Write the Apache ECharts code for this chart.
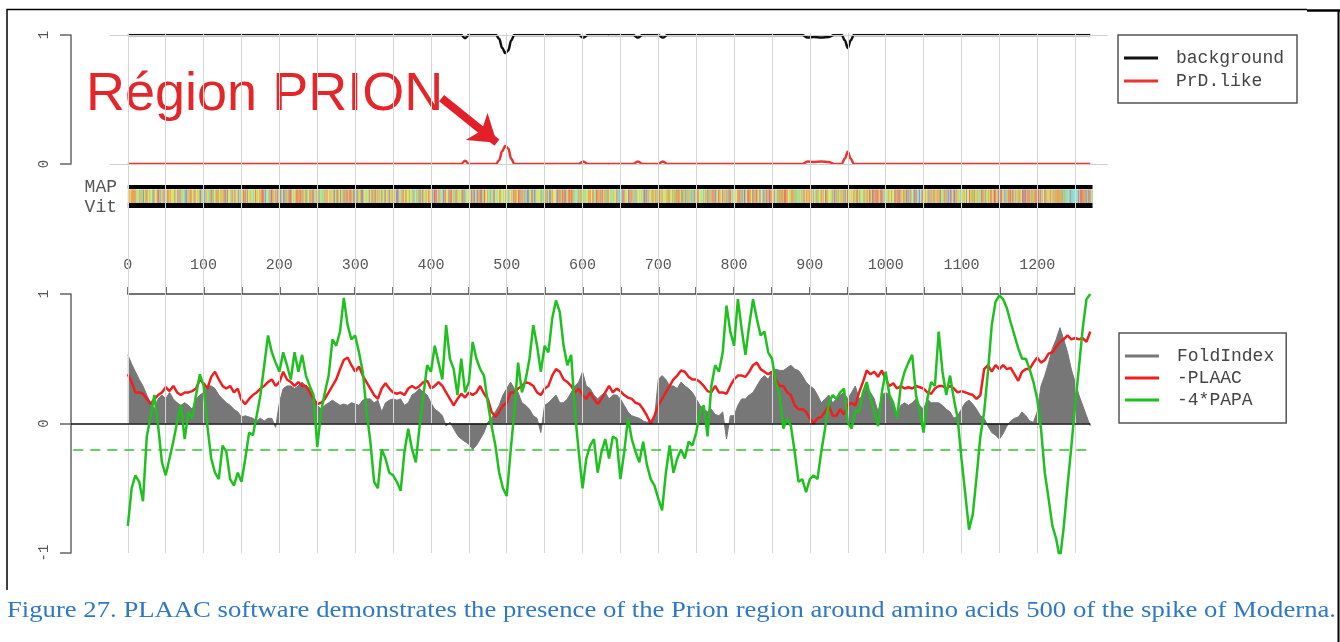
<!DOCTYPE html>
<html><head><meta charset="utf-8">
<script src="https://cdn.jsdelivr.net/npm/echarts@6/dist/echarts.min.js"></script>
<style>html,body{margin:0;padding:0;background:#fff}#c{width:1340px;height:642px}</style>
</head><body><div id="c"></div>
<script>
// ---------------- DATA ----------------
const STEP = 5; // residue spacing of the sampled profiles below (0,5,10,...)
const foldIndex = [
 0.53,0.46,0.40,0.34,0.29,0.22,0.16,0.11,0.19,0.22,
 0.19,0.24,0.19,0.16,0.14,0.16,0.14,0.11,0.19,0.22,
 0.24,0.29,0.29,0.27,0.22,0.19,0.16,0.14,0.11,0.09,
 0.05,0.06,0.05,0.04,0.02,0.04,0.02,0.04,0.04,-0.03,
 0.16,0.27,0.29,0.29,0.27,0.29,0.32,0.29,0.27,0.22,
 0.14,0.11,0.14,0.16,0.18,0.16,0.14,0.15,0.14,0.16,
 0.15,0.14,0.18,0.19,0.19,0.16,0.18,0.09,0.16,0.18,
 0.19,0.18,0.19,0.14,0.16,0.22,0.24,0.27,0.24,0.22,
 0.16,0.11,0.09,0.06,-0.02,0.01,-0.04,-0.09,-0.12,-0.14,
 -0.16,-0.20,-0.17,-0.12,-0.07,0.01,0.04,0.09,0.14,0.22,
 0.27,0.32,0.27,0.24,0.16,0.14,0.11,0.06,0.04,-0.07,
 0.14,0.16,0.19,0.22,0.16,0.16,0.19,0.24,0.29,0.32,
 0.40,0.29,0.27,0.22,0.19,0.22,0.24,0.19,0.22,0.22,
 0.19,0.14,0.09,0.06,0.05,0.04,0.02,0.01,0.02,0.04,
 0.34,0.37,0.34,0.29,0.29,0.27,0.32,0.29,0.27,0.24,
 0.19,0.14,0.11,0.09,0.11,0.07,0.06,0.09,-0.12,0.06,
 0.06,0.14,0.19,0.19,0.22,0.24,0.29,0.34,0.37,0.34,
 0.40,0.42,0.41,0.41,0.43,0.45,0.42,0.41,0.37,0.32,
 0.29,0.27,0.22,0.16,0.19,0.22,0.16,0.19,0.22,0.24,
 0.19,0.24,0.29,0.19,0.22,0.29,0.24,0.19,0.09,0.22,
 0.24,0.22,0.16,0.06,0.14,0.16,0.14,0.16,0.19,0.14,
 0.11,0.19,0.16,0.16,0.16,0.14,0.11,0.09,0.04,0.06,
 0.11,0.16,0.18,0.15,0.11,0.06,0.04,-0.02,-0.07,-0.09,
 -0.12,-0.08,-0.02,0.02,0.04,0.05,0.09,0.06,0.02,0.01,
 0.09,0.29,0.37,0.47,0.58,0.65,0.74,0.65,0.55,0.42,
 0.32,0.22,0.14,0.06,-0.02
];
const plaac = [
 0.38,0.32,0.24,0.24,0.23,0.19,0.15,0.19,0.22,0.24,
 0.28,0.25,0.29,0.24,0.22,0.24,0.24,0.25,0.27,0.34,
 0.31,0.27,0.36,0.40,0.34,0.29,0.27,0.29,0.24,0.27,
 0.18,0.15,0.19,0.22,0.24,0.27,0.29,0.32,0.34,0.29,
 0.32,0.40,0.34,0.32,0.29,0.32,0.29,0.29,0.24,0.19,
 0.15,0.16,0.19,0.24,0.29,0.34,0.42,0.49,0.51,0.45,
 0.40,0.44,0.37,0.32,0.27,0.22,0.19,0.27,0.31,0.27,
 0.24,0.23,0.24,0.22,0.27,0.29,0.27,0.29,0.32,0.33,
 0.27,0.29,0.32,0.29,0.24,0.19,0.14,0.19,0.23,0.20,
 0.24,0.22,0.24,0.29,0.23,0.19,0.09,0.05,0.09,0.14,
 0.16,0.24,0.24,0.27,0.29,0.32,0.31,0.29,0.24,0.22,
 0.27,0.29,0.37,0.42,0.40,0.34,0.32,0.29,0.24,0.27,
 0.22,0.19,0.24,0.19,0.15,0.19,0.24,0.29,0.24,0.27,
 0.25,0.22,0.20,0.19,0.16,0.15,0.11,0.06,0.00,0.06,
 0.14,0.19,0.24,0.29,0.34,0.37,0.41,0.40,0.36,0.34,
 0.34,0.32,0.29,0.25,0.24,0.29,0.24,0.24,0.23,0.29,
 0.34,0.37,0.37,0.36,0.40,0.45,0.47,0.42,0.40,0.38,
 0.40,0.34,0.29,0.29,0.24,0.22,0.14,0.11,0.11,0.09,
 0.04,0.00,0.04,0.05,0.09,0.14,0.06,0.06,0.11,0.07,
 0.14,0.16,0.14,0.24,0.32,0.41,0.38,0.40,0.36,0.41,
 0.34,0.29,0.31,0.27,0.29,0.27,0.28,0.27,0.29,0.28,
 0.27,0.24,0.23,0.27,0.29,0.29,0.27,0.29,0.27,0.24,
 0.25,0.24,0.23,0.22,0.19,0.22,0.42,0.45,0.40,0.45,
 0.42,0.45,0.42,0.43,0.38,0.33,0.40,0.42,0.42,0.47,
 0.51,0.47,0.49,0.54,0.55,0.59,0.63,0.65,0.68,0.65,
 0.66,0.65,0.66,0.63,0.71
];
const papa = [
 -0.79,-0.50,-0.40,-0.45,-0.60,-0.10,0.05,0.22,-0.02,-0.30,
 -0.40,-0.27,-0.14,0.01,0.14,-0.12,0.09,0.04,0.22,0.38,
 0.29,-0.02,-0.27,-0.38,-0.43,-0.17,-0.22,-0.43,-0.48,-0.38,
 -0.45,-0.27,-0.07,-0.09,0.06,0.22,0.45,0.68,0.55,0.47,
 0.40,0.55,0.45,0.34,0.55,0.40,0.53,0.37,0.29,0.22,
 -0.18,0.09,0.24,0.37,0.65,0.60,0.71,0.97,0.76,0.65,
 0.68,0.55,0.40,0.10,-0.14,-0.45,-0.50,-0.20,-0.27,-0.38,
 -0.40,-0.45,-0.52,-0.22,-0.04,-0.20,-0.30,-0.02,0.22,0.45,
 0.40,0.60,0.47,0.34,0.76,0.50,0.42,0.22,0.50,0.24,
 0.32,0.63,0.50,0.42,0.37,0.16,-0.02,-0.17,-0.38,-0.50,
 -0.56,-0.22,0.09,0.47,0.24,0.34,0.50,0.76,0.60,0.40,
 0.60,0.55,0.81,0.95,0.86,0.60,0.45,0.53,0.09,-0.22,
 -0.50,-0.27,-0.17,-0.12,-0.38,-0.22,-0.12,-0.27,-0.10,-0.12,
 -0.43,-0.22,0.04,-0.12,-0.22,-0.30,-0.14,-0.32,-0.43,-0.48,
 -0.58,-0.67,-0.38,-0.17,-0.38,-0.27,-0.20,-0.27,-0.14,-0.17,
 -0.07,0.09,0.14,-0.10,0.29,0.45,0.40,0.55,0.91,0.71,
 0.60,0.96,0.73,0.53,0.76,0.96,0.81,0.68,0.71,0.55,
 0.50,0.32,0.22,-0.04,0.04,-0.02,-0.22,-0.45,-0.43,-0.53,
 -0.43,-0.40,-0.43,-0.22,-0.04,0.16,0.22,0.19,0.24,0.27,
 0.01,-0.04,0.10,0.09,0.24,0.32,0.19,0.09,-0.02,0.24,
 0.40,0.22,0.16,0.04,0.29,0.40,0.47,0.53,0.22,0.09,
 -0.07,0.19,0.32,0.29,0.71,0.40,0.22,0.37,0.19,0.04,
 -0.27,-0.54,-0.82,-0.70,-0.41,-0.10,0.09,0.40,0.76,0.94,
 0.99,0.96,0.89,0.78,0.68,0.58,0.50,0.50,0.42,0.32,
 0.19,-0.04,-0.38,-0.58,-0.79,-0.89,-1.05,-0.80,-0.48,-0.18,
 0.14,0.43,0.73,0.96,1.00
];
const papaThreshold = -0.2;
// top panel: HMM state probabilities
const statePos = [0,440,445,450,486,490,494,498,502,506,510,595,601,607,667,673,679,700,706,712,890,897,905,915,925,932,942,946,950,954,958,1270];
const background = [1,1,0.975,1,1,0.97,0.9,0.86,0.88,0.96,1,1,0.98,1,1,0.98,1,1,0.98,1,1,0.98,0.985,0.98,0.985,1,1,0.96,0.9,0.96,1,1];
const prdLike = [0,0,0.025,0,0,0.03,0.1,0.14,0.12,0.04,0,0,0.02,0,0,0.02,0,0,0.02,0,0,0.02,0.015,0.02,0.015,0,0,0.04,0.095,0.04,0,0];
// MAP / Viterbi parses: segments [start, end] (all background)
const mapParse = [[0, 1273]];
const vitParse = [[0, 1273]];
// protein sequence (Moderna spike, 2P) used for the colour strip
const sequence = "MFVFLVLLPLVSSQCVNLTTRTQLPPAYTNSFTRGVYYPDKVFRSSVLHSTQDLFLPFFSNVTWFHAIHVSGTNGTKRFDNPVLPFNDGVYFASTEKSNIIRGWIFGTTLDSKTQSLLIVNNATNVVIKVCEFQFCNDPFLGVYYHKNNKSWMESEFRVYSSANNCTFEYVSQPFLMDLEGKQGNFKNLREFVFKNIDGYFKIYSKHTPINLVRDLPQGFSALEPLVDLPIGINITRFQTLLALHRSYLTPGDSSSGWTAGAAAYYVGYLQPRTFLLKYNENGTITDAVDCALDPLSETKCTLKSFTVEKGIYQTSNFRVQPTESIVRFPNITNLCPFGEVFNATRFASVYAWNRKRISNCVADYSVLYNSASFSTFKCYGVSPTKLNDLCFTNVYADSFVIRGDEVRQIAPGQTGKIADYNYKLPDDFTGCVIAWNSNNLDSKVGGNYNYLYRLFRKSNLKPFERDISTEIYQAGSTPCNGVEGFNCYFPLQSYGFQPTNGVGYQPYRVVVLSFELLHAPATVCGPKKSTNLVKNKCVNFNFNGLTGTGVLTESNKKFLPFQQFGRDIADTTDAVRDPQTLEILDITPCSFGGVSVITPGTNTSNQVAVLYQDVNCTEVPVAIHADQLTPTWRVYSTGSNVFQTRAGCLIGAEHVNNSYECDIPIGAGICASYQTQTNSPRRARSVASQSIIAYTMSLGAENSVAYSNNSIAIPTNFTISVTTEILPVSMTKTSVDCTMYICGDSTECSNLLLQYGSFCTQLNRALTGIAVEQDKNTQEVFAQVKQIYKTPPIKDFGGFNFSQILPDPSKPSKRSFIEDLLFNKVTLADAGFIKQYGDCLGDIAARDLICAQKFNGLTVLPPLLTDEMIAQYTSALLAGTITSGWTFGAGAALQIPFAMQMAYRFNGIGVTQNVLYENQKLIANQFNSAIGKIQDSLSSTASALGKLQDVVNQNAQALNTLVKQLSSNFGAISSVLNDILSRLDPPEAEVQIDRLITGRLQSLQTYVTQQLIRAAEIRASANLAATKMSECVLGQSKRVDFCGKGYHLMSFPQSAPHGVVFLHVTYVPAQEKNFTTAPAICHDGKAHFPREGVFVSNGTHWFVTQRNFYEPQIITTDNTFVSGNCDVVIGIVNNTVYDPLQPELDSFKEELDKYFKNHTSPDVDLGDISGINASVVNIQKEIDRLNEVAKNLNESLIDLQELGKYEQYIKWPWYIWLGFIAGLIAIVMVTIMLCCMTSCCSCLKGCCSCGSCCKFDEDDSEPVLKGVKLHYT";
const aaColor = {
 A:'#f0a458',V:'#ec9c48',L:'#ea9742',I:'#e8a050',M:'#d99a3c',
 F:'#ece052',W:'#d8cf58',Y:'#f2e460',
 S:'#aee47c',T:'#9ed86c',G:'#7edfd0',P:'#d6a868',
 N:'#c0e870',Q:'#d4ec78',
 D:'#ea6e60',E:'#e4665e',
 K:'#7f86de',R:'#9282d6',H:'#9c9ce6',
 C:'#70dcee'
};
const xTickLabels = [0,100,200,300,400,500,600,700,800,900,1000,1100,1200];
const gridPositions = [0,50,100,150,200,250,300,350,400,450,500,550,600,650,700,750,800,850,900,950,1000,1050,1100,1150,1200,1250];
const annotation = 'Région PRION';
const caption = 'Figure 27. PLAAC software demonstrates the presence of the Prion region around amino acids 500 of the spike of Moderna.';

// ---------------- CHART ----------------
const XMIN = -75, XMAX = 1300;
const GL = 71, GW = 1042;
const mono = "'Liberation Mono', 'DejaVu Sans Mono', monospace";
const toPairs = arr => arr.map((v, i) => [i * STEP, v]);
const zip = (xs, ys) => xs.map((x, i) => [x, ys[i]]);

const hidX = (gi) => ({type:'value', gridIndex:gi, min:XMIN, max:XMAX, show:false, axisLine:{onZero:false}});
const hidY = (gi, mn, mx) => ({type:'value', gridIndex:gi, min:mn, max:mx, show:false, axisLine:{onZero:false}});
const leftY = (gi, mn, mx) => ({
  type:'value', gridIndex:gi, min:mn, max:mx, interval:1, position:'left',
  axisLine:{show:true, onZero:false, lineStyle:{color:'#666', width:1.5}},
  axisTick:{show:true, length:11, lineStyle:{color:'#666', width:1.5}},
  axisLabel:{rotate:90, margin:20, color:'#555', fontFamily:mono, fontSize:14},
  splitLine:{show:false}
});

const cvs = document.createElement('canvas').getContext('2d');
cvs.font = '23px "Liberation Serif"';
const capScale = 1329 / cvs.measureText(caption).width;

const legendCommon = {
  orient:'vertical', icon:'rect', itemWidth:34, itemHeight:3,
  backgroundColor:'#fff', borderColor:'#555', borderWidth:1.5, borderRadius:0,
  textStyle:{fontFamily:mono, fontSize:18, color:'#444', padding:[0,0,0,13]},
  selectedMode:false
};

const option = {
  animation:false,
  backgroundColor:'#fff',
  grid:[
    {left:GL, width:GW, top:35, height:129, outerBoundsMode:'none'},   // 0 top panel
    {left:GL, width:GW, top:294, height:259, outerBoundsMode:'none'},  // 1 bottom panel
    {left:GL, width:GW, top:33, height:520, outerBoundsMode:'none'},   // 2 vertical grid lines
    {left:GL, width:GW, top:185, height:23, outerBoundsMode:'none'},   // 3 MAP/Vit strip
    {left:127.8, width:947.3, top:294, height:259, outerBoundsMode:'none'} // 4 position axis
  ],
  xAxis:[
    hidX(0), hidX(1), hidX(2), hidX(3),
    {type:'value', gridIndex:4, position:'top', min:0, max:1250, interval:50,
     axisLine:{show:true, onZero:false, lineStyle:{color:'#444', width:1.5}},
     axisTick:{show:true, length:7, lineStyle:{color:'#444', width:1.5}},
     axisLabel:{margin:21, color:'#555', fontFamily:mono, fontSize:15,
       formatter: v => xTickLabels.indexOf(v) >= 0 ? String(v) : ''},
     splitLine:{show:false}}
  ],
  yAxis:[
    leftY(0, 0, 1), leftY(1, -1, 1), hidY(2, 0, 1), hidY(3, 0, 1), hidY(4, 0, 1)
  ],
  legend:[
    Object.assign({}, legendCommon, {left:1118, top:35, padding:[14,13,13,6], itemGap:5,
      data:['background','PrD.like']}),
    Object.assign({}, legendCommon, {left:1119, top:333, padding:[14,12,14,6], itemGap:4,
      data:['FoldIndex','-PLAAC','-4*PAPA']})
  ],
  series:[
    {name:'_grid', type:'line', xAxisIndex:2, yAxisIndex:2, data:[], z:0, silent:true,
     markLine:{silent:true, symbol:'none', label:{show:false}, animation:false,
       lineStyle:{color:'#d6d6d6', width:1, type:'solid'},
       data: gridPositions.map(v => ({xAxis:v}))}},
    {name:'_hlines', type:'line', xAxisIndex:0, yAxisIndex:0, data:[], z:1, silent:true,
     markLine:{silent:true, symbol:'none', label:{show:false},
       lineStyle:{color:'#d0d0d0', width:1, type:'solid'},
       data:[[{coord:[-24,1]},{coord:[1293,1]}],[{coord:[-24,0]},{coord:[1293,0]}]]}},
    {name:'background', type:'line', xAxisIndex:0, yAxisIndex:0, data:zip(statePos, background),
     showSymbol:false, symbol:'none', smooth:0.4, smoothMonotone:'x', z:3,
     lineStyle:{color:'#111', width:2.5}, itemStyle:{color:'#111'}},
    {name:'PrD.like', type:'line', xAxisIndex:0, yAxisIndex:0, data:zip(statePos, prdLike),
     showSymbol:false, symbol:'none', smooth:0.4, smoothMonotone:'x', z:3,
     lineStyle:{color:'#e8352e', width:2.5}, itemStyle:{color:'#e8352e'},
     markLine:{silent:true, symbol:['none','arrow'], symbolSize:[26,26], label:{show:false},
       lineStyle:{color:'#e3202a', width:8, type:'solid'},
       data:[[{coord:[414, 0.51]},{coord:[487, 0.165]}]]}},
    {name:'MAP', type:'line', xAxisIndex:3, yAxisIndex:3, z:4, silent:true,
     data: mapParse.flatMap(s => [[s[0], 0.913], [s[1], 0.913]]),
     showSymbol:false, symbol:'none', lineStyle:{color:'#000', width:4}},
    {name:'Vit', type:'line', xAxisIndex:3, yAxisIndex:3, z:4, silent:true,
     data: vitParse.flatMap(s => [[s[0], 0.109], [s[1], 0.109]]),
     showSymbol:false, symbol:'none', lineStyle:{color:'#000', width:5}},
    {name:'_seq', type:'custom', xAxisIndex:3, yAxisIndex:3, z:3, silent:true,
     data: sequence.split('').map((c, i) => [i, 0]),
     renderItem: function(params, api){
       const i = api.value(0);
       const p0 = api.coord([i, 0.804]);
       const p1 = api.coord([i + 1, 0.217]);
       return {type:'rect', shape:{x:p0[0], y:p0[1], width:p1[0]-p0[0]+0.25, height:p1[1]-p0[1]},
               style:{fill: aaColor[sequence[params.dataIndex]] || '#cccccc'}};
     }},
    {name:'FoldIndex', type:'line', xAxisIndex:1, yAxisIndex:1, data:toPairs(foldIndex),
     showSymbol:false, symbol:'none', z:2,
     lineStyle:{color:'#777', width:1}, itemStyle:{color:'#777'},
     areaStyle:{color:'#777', opacity:1, origin:0}},
    {name:'_ref', type:'line', xAxisIndex:1, yAxisIndex:1, data:[], z:3, silent:true,
     markLine:{silent:true, symbol:'none', label:{show:false},
       data:[
         [{coord:[XMIN,0], lineStyle:{color:'#111', width:1.5, type:'solid'}},{coord:[1270,0]}],
         [{coord:[-72,papaThreshold], lineStyle:{color:'#2cc52c', width:1.5, type:[10,7]}},{coord:[1270,papaThreshold]}]
       ]}},
    {name:'-PLAAC', type:'line', xAxisIndex:1, yAxisIndex:1, data:toPairs(plaac),
     showSymbol:false, symbol:'none', z:4,
     lineStyle:{color:'#ee1f1f', width:2.5}, itemStyle:{color:'#ee1f1f'}},
    {name:'-4*PAPA', type:'line', xAxisIndex:1, yAxisIndex:1, data:toPairs(papa),
     showSymbol:false, symbol:'none', z:5,
     lineStyle:{color:'#1fc01f', width:2.5}, itemStyle:{color:'#1fc01f'}}
  ],
  graphic:[
    {type:'polyline', silent:true, shape:{points:[[7,590],[7,9.5],[1307,9.5]]}, style:{stroke:'#000', lineWidth:1.5, fill:null}},
    {type:'line', silent:true, shape:{x1:1307, y1:10.5, x2:1340, y2:10.5}, style:{stroke:'#000', lineWidth:2.5}},
    {type:'line', silent:true, shape:{x1:1338.5, y1:10, x2:1338.5, y2:642}, style:{stroke:'#000', lineWidth:2}},
    {type:'text', silent:true, x:117, y:187, style:{text:'MAP', font:"18px 'Liberation Mono'", fill:'#555', align:'right', verticalAlign:'middle'}},
    {type:'text', silent:true, x:117, y:207, style:{text:'Vit', font:"18px 'Liberation Mono'", fill:'#555', align:'right', verticalAlign:'middle'}},
    {type:'text', silent:true, x:86, y:95, style:{text:annotation, font:"54px 'Liberation Sans'", fill:'#e3262a', verticalAlign:'middle'}},
    {type:'text', silent:true, x:7, y:611, scaleX:capScale, style:{text:caption, font:'23px "Liberation Serif"', fill:'#2f78c4', verticalAlign:'middle'}}
  ]
};
const chart = echarts.init(document.getElementById('c'), null, {renderer:'canvas'});
chart.setOption(option);
</script>
</body></html>
